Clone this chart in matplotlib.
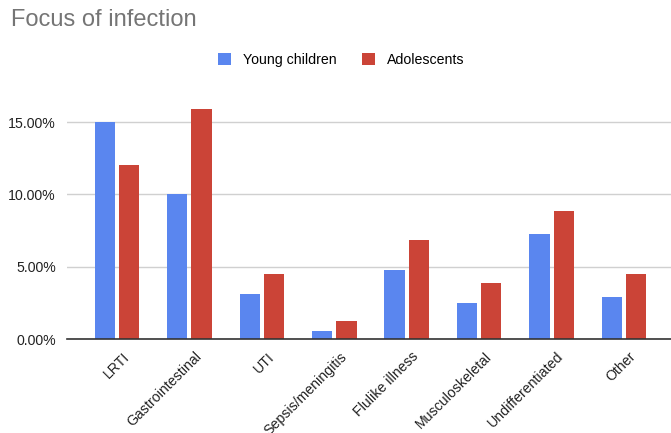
import numpy as np
import matplotlib
matplotlib.use("Agg")
import matplotlib.pyplot as plt
from matplotlib.ticker import FuncFormatter
from matplotlib.transforms import ScaledTranslation

plt.rcParams["font.family"] = ["Liberation Sans", "DejaVu Sans"]

categories = ["LRTI", "Gastrointestinal", "UTI", "Sepsis/meningitis",
              "Flulike illness", "Musculoskeletal", "Undifferentiated", "Other"]
young_children = [15.0, 10.0, 3.15, 0.55, 4.8, 2.5, 7.3, 2.9]
adolescents = [12.0, 15.9, 4.5, 1.26, 6.85, 3.9, 8.85, 4.5]
yticks = [0, 5, 10, 15]

BLUE = "#5a86ef"
RED = "#cb4437"

fig = plt.figure(figsize=(6.71, 4.33), dpi=100)
ax = fig.add_axes([0.1, 0.2164, 0.9, 0.552])

x = np.arange(len(categories))
w = 0.28
gap = 0.055
ax.bar(x - (w + gap) / 2, young_children, width=w, color=BLUE, label="Young children", zorder=3)
ax.bar(x + (w + gap) / 2, adolescents, width=w, color=RED, label="Adolescents", zorder=3)

ax.set_xlim(-0.69, 7.65)
ax.set_ylim(0, 16.5)
ax.set_yticks(yticks)
ax.yaxis.set_major_formatter(FuncFormatter(lambda v, _: f"{v:.2f}%"))
ax.grid(axis="y", color="#d0d0d0", linewidth=1, zorder=0)
for s in ["top", "right", "left"]:
    ax.spines[s].set_visible(False)
ax.spines["bottom"].set_color("#333333")
ax.spines["bottom"].set_linewidth(1.2)
ax.spines["bottom"].set_zorder(4)
ax.tick_params(axis="both", length=0, labelsize=10.2, colors="#222222")
ax.tick_params(axis="y", pad=8)
ax.tick_params(axis="x", pad=6)
ax.set_xticks(x)
ax.set_xticklabels(categories, rotation=45, ha="right", rotation_mode="anchor")
# nudge rotated labels a little to the right of each tick
shift = ScaledTranslation(5 / 100, -2 / 100, fig.dpi_scale_trans)
for lbl in ax.get_xticklabels():
    lbl.set_transform(lbl.get_transform() + shift)

fig.text(0.017, 0.953, "Focus of infection", fontsize=17, color="#757575", va="center")
fig.legend(loc="center", bbox_to_anchor=(0.509, 0.862), ncol=2, frameon=False,
           fontsize=10.2, handlelength=0.9, handleheight=0.9, columnspacing=1.8,
           handletextpad=0.85)

fig.savefig("out.png", dpi=100)
